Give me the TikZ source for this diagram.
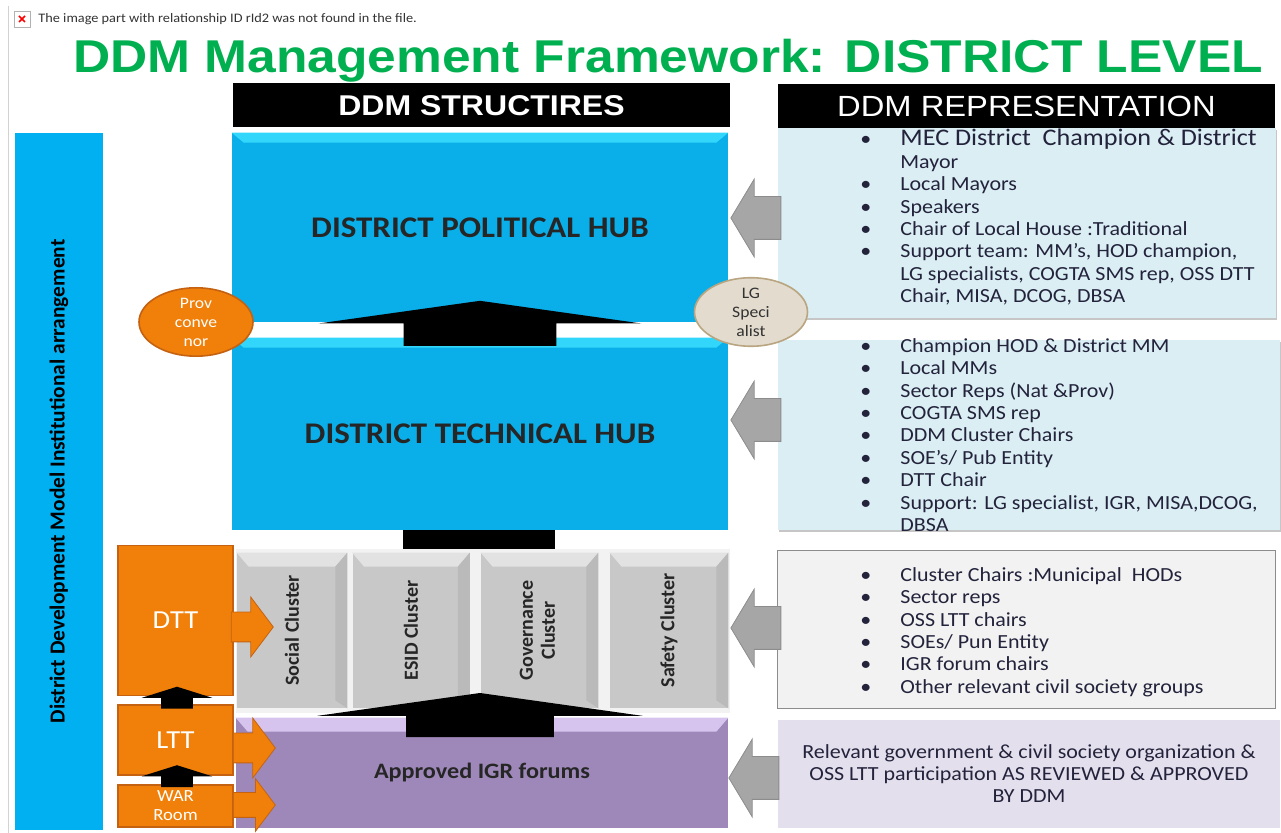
\documentclass[tikz,border=0pt]{standalone}
\usepackage{fontspec}
\setmainfont[FakeStretch=1.1]{Carlito}
\newfontfamily\plainfont{Carlito}
\newfontfamily\arialfont[FakeStretch=1.12]{Liberation Sans}
\usetikzlibrary{positioning, calc, shapes.geometric, shapes.arrows, shadows}
\definecolor{titlegreen}{RGB}{0,176,80}
\definecolor{hubblue}{RGB}{10,174,232}
\definecolor{hubtop}{RGB}{50,214,250}
\definecolor{barblue}{RGB}{0,176,240}
\definecolor{ddmorange}{RGB}{240,128,10}
\definecolor{orangeline}{RGB}{196,98,18}
\definecolor{igrpurple}{RGB}{158,136,185}
\definecolor{igrtop}{RGB}{214,196,238}
\definecolor{clugrey}{RGB}{200,200,200}
\definecolor{clutop}{RGB}{226,226,226}
\definecolor{cluside}{RGB}{186,186,186}
\definecolor{arrowgrey}{RGB}{166,166,166}
\definecolor{arrowline}{RGB}{140,140,140}
\definecolor{repblue}{RGB}{218,238,243}
\definecolor{repgrey}{RGB}{242,242,242}
\definecolor{replilac}{RGB}{228,223,236}
\definecolor{lgfill}{RGB}{226,219,206}
\definecolor{lgline}{RGB}{185,165,127}
\definecolor{listtext}{RGB}{35,35,60}
% bullet and continuation line for the member lists
\newcommand{\li}{\makebox[20pt][l]{\textbullet}}
\newcommand{\lc}{\hspace*{20pt}}

\begin{document}
\begin{tikzpicture}[x=0.5pt, y=-0.5pt,
		hub/.style = {rectangle, fill=hubblue, inner sep=0, minimum width=248pt, text=black!85, font=\bfseries\fontsize{15}{18}\selectfont},
		header/.style = {rectangle, fill=black, inner sep=0, minimum width=248.5pt, minimum height=22pt, text=white},
		team/.style = {rectangle, fill=ddmorange, draw=orangeline, thick, inner sep=0, minimum width=57.5pt, text=white, align=center},
		cluster/.style = {rectangle, fill=clugrey, inner sep=0, minimum height=77.5pt, text=black!85, font=\plainfont\bfseries\fontsize{10}{11}\selectfont},
		rep/.style = {rectangle, inner sep=0, minimum width=249pt},
		replist/.style = {inner sep=0, anchor=north west, align=left, text=listtext, font=\fontsize{10}{11.2}\selectfont},
		greyarrow/.style = {single arrow, anchor=tip, fill=arrowgrey, draw=arrowline, inner xsep=0, inner ysep=10.5pt, minimum height=25pt, minimum width=38.5pt, single arrow head extend=8.75pt, single arrow tip angle=118, shape border rotate=180},
		bigup/.style = {single arrow, anchor=tip, fill=black, inner ysep=0, inner xsep=38pt, minimum height=22.5pt, minimum width=161pt, single arrow head extend=42.5pt, single arrow tip angle=164, shape border rotate=90},
		smallup/.style = {single arrow, anchor=tip, fill=black, inner ysep=0, inner xsep=7.75pt, minimum height=11pt, minimum width=35pt, single arrow head extend=9.75pt, single arrow tip angle=145, shape border rotate=90},
		teamarrow/.style = {single arrow, anchor=tip, fill=ddmorange, draw=orangeline, inner xsep=0, inner ysep=7.25pt, minimum height=21pt, minimum width=29.5pt, single arrow head extend=7.5pt, single arrow tip angle=106},
	]
	\useasboundingbox (0,0) rectangle (1281,833);

	% note of the missing picture
	\draw[gray!35] (8,6) -- (8,833);
	\node[draw=gray!60, fill=white, inner sep=0, minimum size=8pt] (IC) at (22,19) {};
	\draw[red, thick] ($(IC.center)+(-3,-3)$) -- ($(IC.center)+(3,3)$) ($(IC.center)+(3,-3)$) -- ($(IC.center)+(-3,3)$);
	\node[anchor=west, inner sep=0, text=black!80, font=\fontsize{6.5}{8}\selectfont] (NT) at (38,19) {The image part with relationship ID rId2 was not found in the file.};

	\node[text=titlegreen, inner sep=0, font=\arialfont\bfseries\fontsize{23}{26}\selectfont] (TT) at (668,61) {DDM Management Framework: DISTRICT LEVEL};
	\node[header, font=\arialfont\bfseries\fontsize{14.3}{16}\selectfont] (SH) at (481.5,105.5) {DDM STRUCTIRES};
	\node[header, font=\arialfont\fontsize{14.6}{16}\selectfont] (RH) at (1026.5,106) {DDM REPRESENTATION};

	\node[fill=barblue, inner sep=0, minimum width=44pt, minimum height=348.5pt, font=\plainfont\bfseries\fontsize{10.7}{12}\selectfont] (LB) at (59,481.5) {\rotatebox{90}{District Development Model Institutional arrangement}};

	% hubs
	\node[hub, minimum height=94.5pt] (PH) at (480,227.5) {DISTRICT POLITICAL HUB};
	\node[hub, minimum height=96pt] (TH) at (480,434) {DISTRICT TECHNICAL HUB};
	\foreach \h in {PH,TH}
		\fill[hubtop] (\h.north west) -- (\h.north east) -- ++(-12,10) -- ($(\h.north west)+(12,10)$) -- cycle;
	\fill ($(TH.south)+(-77,0)$) rectangle ($(TH.south)+(75,24)$);

	% clusters
	\node[fill=gray!10, inner sep=0, minimum width=247pt, minimum height=82pt] (CG) at (483,631) {};
	\node[cluster, minimum width=55pt] (SC) at (292,630.5) {\rotatebox{90}{Social Cluster}};
	\node[cluster, minimum width=58.5pt] (EC) at (411,630.5) {\rotatebox{90}{ESID Cluster}};
	\node[cluster, minimum width=58.5pt] (GC) at (539.5,630.5) {\rotatebox{90}{\begin{tabular}{@{}c@{}}Governance\\Cluster\end{tabular}}};
	\node[cluster, minimum width=59pt] (FC) at (669,630.5) {\rotatebox{90}{Safety Cluster}};
	\foreach \c in {SC,EC,GC,FC} {
		\fill[clutop] (\c.north west) -- (\c.north east) -- ++(-12,14) -- ($(\c.north west)+(12,14)$) -- cycle;
		\fill[cluside] (\c.north east) -- ++(-12,14) -- ($(\c.south east)+(-12,-8)$) -- (\c.south east) -- cycle;
	}

	\node[fill=igrpurple, inner sep=0, minimum width=246pt, minimum height=55pt] (IG) at (482,773) {};
	\fill[igrtop] (IG.north west) -- (IG.north east) -- ++(-12,14) -- ($(IG.north west)+(12,14)$) -- cycle;
	\node[text=black!85, font=\bfseries\fontsize{11}{13}\selectfont] (IGT) at (IG.center) {Approved IGR forums};

	% task teams
	\node[team, minimum height=75pt, font=\fontsize{13}{15}\selectfont] (DT) at (175.5,620.5) {DTT};
	\node[team, minimum height=35pt, font=\fontsize{13}{15}\selectfont] (LT) at (175.5,740) {LTT};
	\node[team, minimum height=21pt, font=\fontsize{8.5}{9.5}\selectfont] (WR) at (175.5,806) {WAR\\Room};

	% representation
	\node[rep, fill=repblue, minimum height=95pt, drop shadow={shadow xshift=0.6pt, shadow yshift=-0.9pt, opacity=.45}] (PR) at (1026.5,223) {};
	\node[rep, fill=repblue, minimum width=251pt, minimum height=95pt, drop shadow={shadow xshift=0.6pt, shadow yshift=-0.9pt, opacity=.45}] (TR) at (1029,435) {};
	\node[rep, fill=repgrey, draw=arrowline, minimum height=79pt] (CR) at (1026.5,629) {};
	\node[rep, fill=replilac, minimum width=251pt, minimum height=54pt, align=center, text=listtext, font=\fontsize{10}{11}\selectfont] (IR) at (1029,774) {Relevant government \& civil society organization \&\\OSS LTT participation AS REVIEWED \& APPROVED\\BY DDM};

	\node[replist] (PL) at (860,129) {\li {\fontsize{11.9}{11.2}\selectfont MEC District\ \ Champion \& District}\\
		\lc Mayor\\
		\li Local Mayors\\
		\li Speakers\\
		\li Chair of Local House :Traditional\\
		\li Support team: MM’s, HOD champion,\\
		\lc LG specialists, COGTA SMS rep, OSS DTT\\
		\lc Chair, MISA, DCOG, DBSA};
	\node[replist] (TL) at (860,338) {\li Champion HOD \& District MM\\
		\li Local MMs\\
		\li Sector Reps (Nat \&Prov)\\
		\li COGTA SMS rep\\
		\li DDM Cluster Chairs\\
		\li SOE’s/ Pub Entity\\
		\li DTT Chair\\
		\li Support: LG specialist, IGR, MISA,DCOG,\\
		\lc DBSA};
	\node[replist] (CL) at (860,567) {\li Cluster Chairs :Municipal\ \ HODs\\
		\li Sector reps\\
		\li OSS LTT chairs\\
		\li SOEs/ Pun Entity\\
		\li IGR forum chairs\\
		\li Other relevant civil society groups};

	% arrows
	\node[bigup] (A1) at ($(PH.south)+(0,-22)$) {};
	\node[bigup, minimum height=22pt, minimum width=162.5pt, inner xsep=36.75pt, single arrow head extend=44.5pt] (A2) at ($(IG.north)+(-2,-25)$) {};
	\node[smallup] (A3) at ($(DT.south)+(1.5,-10)$) {};
	\node[smallup] (A4) at ($(LT.south)+(1.5,-11)$) {};
	\node[greyarrow] (G1) at ($(PH.east)+(2,-9.5)$) {};
	\node[greyarrow] (G2) at ($(TH.east)+(2,-14)$) {};
	\node[greyarrow] (G3) at ($(CG.east)+(0,-3)$) {};
	\node[greyarrow] (G4) at ($(IG.east)+(0,5)$) {};
	\node[teamarrow] (O1) at ($(DT.east)+(40,6.5)$) {};
	\node[teamarrow] (O2) at ($(LT.east)+(42,8)$) {};
	\node[teamarrow, minimum width=26pt, inner ysep=6pt, single arrow head extend=7pt] (O3) at ($(WR.east)+(42,-1)$) {};

	\node[ellipse, fill=ddmorange, draw=orangeline, thick, inner sep=0, minimum width=57pt, minimum height=33pt, text=white, align=center, font=\fontsize{8}{9.5}\selectfont] (PC) at (196,322) {Prov\\conve\\nor};
	\node[ellipse, fill=lgfill, draw=lgline, thick, inner sep=0, minimum width=56.5pt, minimum height=32.5pt, text=black!80, align=center, font=\fontsize{8}{9.5}\selectfont] (LG) at (751,312) {LG\\Speci\\alist};
\end{tikzpicture}
\end{document}
